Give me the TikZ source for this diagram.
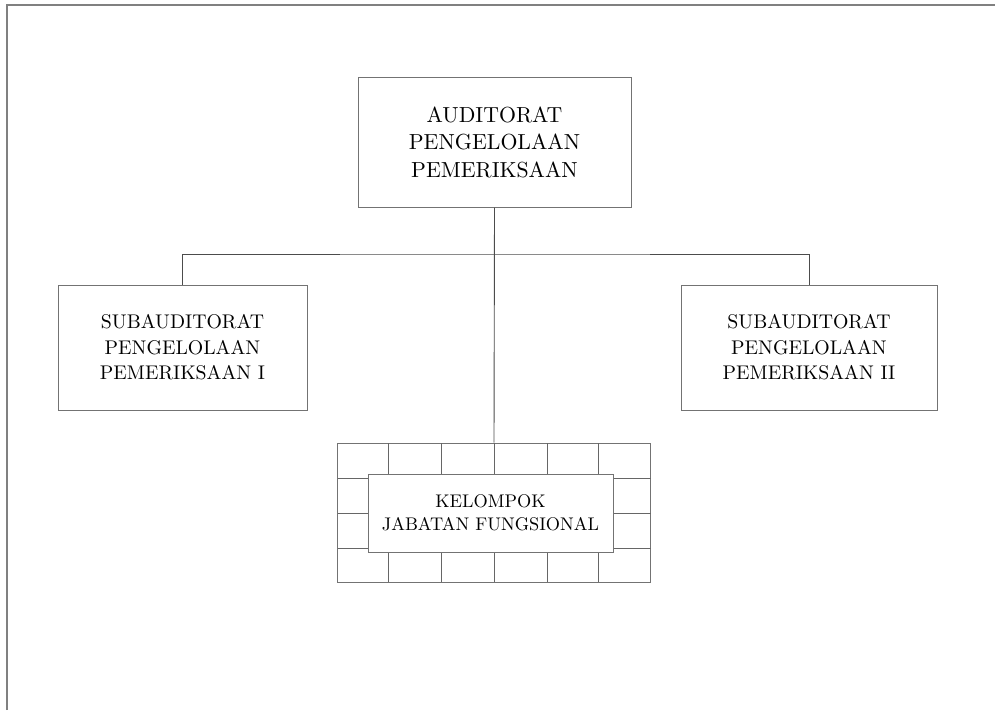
\documentclass[tikz,border=0pt]{standalone}
\usepackage{fontspec}
\setmainfont{lmroman10-regular.otf}
\begin{document}
\begin{tikzpicture}[x=1pt,y=-1pt,
  box/.style={draw=black!55, line width=1pt, fill=white, align=center, inner sep=0pt, text=black},
  conn/.style={draw=black!70, line width=0.9pt},
  frameline/.style={draw=black!50, line width=2pt},
  gridline/.style={draw=black!60, line width=0.9pt}]
\useasboundingbox (0,0) rectangle (995,710);
% page frame (top and left only)
\draw[frameline] (7,710) -- (7,5) -- (995,5);
% nodes
\node[box, minimum width=273pt, minimum height=130pt,
      font=\fontsize{21.8}{27.5}\selectfont] (top) at (494.5,142)
  {AUDITORAT\\PENGELOLAAN\\PEMERIKSAAN};
\node[box, minimum width=249pt, minimum height=125pt,
      font=\fontsize{19.8}{25.5}\selectfont] (left) at (182.5,347.5)
  {SUBAUDITORAT\\PENGELOLAAN\\PEMERIKSAAN I};
\node[box, minimum width=256pt, minimum height=125pt,
      font=\fontsize{19.8}{25.5}\selectfont] (right) at (809,347.5)
  {SUBAUDITORAT\\PENGELOLAAN\\PEMERIKSAAN II};
\node[box, minimum width=313pt, minimum height=139pt] (grid) at (494,512.5) {};
% grid lines
\foreach \gx in {388,441,494,547,598} \draw[gridline] (\gx,443) -- (\gx,582);
\foreach \gy in {478,513,548} \draw[gridline] (337.5,\gy) -- (650.5,\gy);
\node[box, minimum width=245pt, minimum height=78pt,
      font=\fontsize{18.3}{23}\selectfont] (kjf) at (490.5,513)
  {KELOMPOK\\JABATAN FUNGSIONAL};
% connectors
\coordinate (bus) at (494,254);
\draw[conn] (top.south) -- (grid.north);
\draw[conn] (left.north) |- (bus) -| (right.north);
\end{tikzpicture}
\end{document}
